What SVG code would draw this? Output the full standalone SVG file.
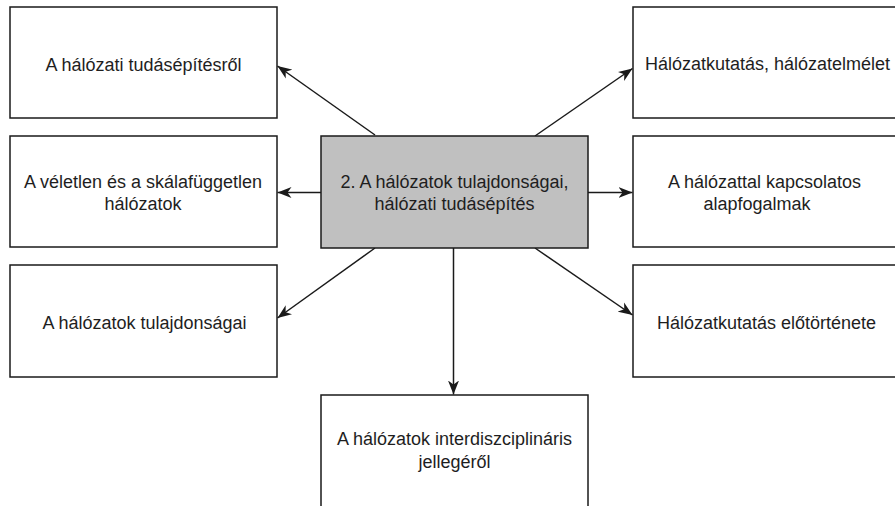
<svg xmlns="http://www.w3.org/2000/svg" width="895" height="506" viewBox="0 0 895 506">
  <style>
    .box { fill: #ffffff; stroke: #1a1a1a; stroke-width: 1.5; }
    .hub { fill: #c0c0c0; stroke: #1a1a1a; stroke-width: 1.5; }
    .lbl { font-family: "Liberation Sans", Arial, sans-serif; font-size: 18px; fill: #1e1e1e; text-anchor: middle; }
    .edge { fill: none; stroke: #1a1a1a; stroke-width: 1.5; marker-end: url(#arrow); }
  </style>
  <defs>
    <marker id="arrow" markerWidth="15" markerHeight="12" refX="14" refY="6" orient="auto" markerUnits="userSpaceOnUse">
      <path d="M0,0.5 L14,6 L0,11.5 L4,6 Z" fill="#1a1a1a"/>
    </marker>
  </defs>
  <rect width="895" height="506" fill="#ffffff"/>

  <!-- connectors from the central topic -->
  <g id="connectors">
    <line class="edge" x1="375" y1="135" x2="277.5" y2="66"/>
    <line class="edge" x1="535" y1="136" x2="632.5" y2="68.5"/>
    <line class="edge" x1="321" y1="192.5" x2="277.5" y2="192.5"/>
    <line class="edge" x1="588" y1="192.5" x2="632.5" y2="192.5"/>
    <line class="edge" x1="375" y1="248" x2="277.5" y2="318"/>
    <line class="edge" x1="535" y1="248" x2="632.5" y2="315"/>
    <line class="edge" x1="453.5" y1="248" x2="453.5" y2="394.5"/>
  </g>

  <g id="center">
    <rect class="hub" x="321" y="136" width="267" height="112"/>
    <text class="lbl" x="454.5" y="188">2. A hálózatok tulajdonságai,</text>
    <text class="lbl" x="454.5" y="210">hálózati tudásépítés</text>
  </g>

  <g id="tudasepites">
    <rect class="box" x="10" y="7" width="267" height="111"/>
    <text class="lbl" x="143.5" y="71">A hálózati tudásépítésről</text>
  </g>

  <g id="veletlen">
    <rect class="box" x="10" y="136" width="267" height="111"/>
    <text class="lbl" x="143" y="188">A véletlen és a skálafüggetlen</text>
    <text class="lbl" x="143" y="210">hálózatok</text>
  </g>

  <g id="tulajdonsagok">
    <rect class="box" x="10" y="265" width="267" height="112"/>
    <text class="lbl" x="144.5" y="329">A hálózatok tulajdonságai</text>
  </g>

  <g id="halozatelmelet">
    <rect class="box" x="633" y="7" width="267" height="111"/>
    <text class="lbl" x="767.5" y="70">Hálózatkutatás, hálózatelmélet</text>
  </g>

  <g id="alapfogalmak">
    <rect class="box" x="633" y="136" width="267" height="111"/>
    <text class="lbl" x="764.5" y="188">A hálózattal kapcsolatos</text>
    <text class="lbl" x="757" y="210">alapfogalmak</text>
  </g>

  <g id="elotortenet">
    <rect class="box" x="633" y="265" width="267" height="112"/>
    <text class="lbl" x="766.5" y="329">Hálózatkutatás előtörténete</text>
  </g>

  <g id="interdiszciplinaris">
    <rect class="box" x="321" y="395" width="267" height="114"/>
    <text class="lbl" x="454.5" y="445">A hálózatok interdiszciplináris</text>
    <text class="lbl" x="454.5" y="468">jellegéről</text>
  </g>
</svg>
